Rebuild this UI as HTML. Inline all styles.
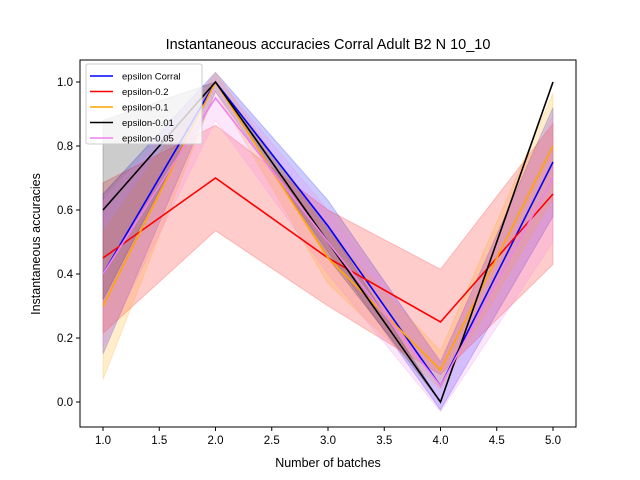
<!DOCTYPE html>
<html><head><meta charset="utf-8"><style>
body{margin:0;background:#fff;}
svg{display:block;font-family:"Liberation Sans","DejaVu Sans",sans-serif;}
</style></head><body>
<svg id="chart" width="640" height="480" xmlns="http://www.w3.org/2000/svg">
<rect width="640" height="480" fill="#fff"/>
<text x="328" y="49" font-size="14.5" text-anchor="middle">Instantaneous accuracies Corral Adult B2 N 10_10</text>
<g id="bands"></g><g id="lines"></g><g id="axes"></g>
<text x="328" y="467" font-size="12.5" text-anchor="middle">Number of batches</text>
<text transform="translate(40,244) rotate(-90)" font-size="12.5" text-anchor="middle">Instantaneous accuracies</text>
<g id="legend"></g>
</svg>
<script>
const batches=[1,2,3,4,5];
const names=["epsilon Corral","epsilon-0.2","epsilon-0.1","epsilon-0.01","epsilon-0.05"];
const colors=["#0000ff","#ff0000","#ffa500","#000000","#ee82ee"];
const meanCorral=[0.4,1.0,0.55,0.05,0.75];
const meanE02=[0.45,0.7,0.45,0.25,0.65];
const meanE01=[0.3,1.0,0.45,0.1,0.8];
const meanE001=[0.6,1.0,0.5,0.0,1.0];
const meanE005=[0.4,0.95,0.5,0.05,0.7];
const stdCorral=[0.25,0.03,0.08,0.075,0.17];
const stdE02=[0.235,0.165,0.15,0.165,0.22];
const stdE01=[0.23,0.03,0.08,0.06,0.165];
const stdE001=[0.28,0.0,0.05,0.0,0.0];
const stdE005=[0.23,0.07,0.1,0.08,0.2];
const xTicks=[1.0,1.5,2.0,2.5,3.0,3.5,4.0,4.5,5.0];
const yTicks=[0.0,0.2,0.4,0.6,0.8,1.0];
const means=[meanCorral,meanE02,meanE01,meanE001,meanE005];
const stds=[stdCorral,stdE02,stdE01,stdE001,stdE005];
const L=80,R=576,T=60,B=427;
function X(v){return 103+(v-1)*112.5;}
function Y(v){return 402-v*320;}
const NS="http://www.w3.org/2000/svg";
function mk(tag,attrs,parent){const e=document.createElementNS(NS,tag);for(const k in attrs)e.setAttribute(k,attrs[k]);parent.appendChild(e);return e;}
const bands=document.getElementById('bands'),lines=document.getElementById('lines'),axes=document.getElementById('axes'),legend=document.getElementById('legend');
means.forEach((m,i)=>{
  const s=stds[i];
  const up=batches.map((b,j)=>X(b)+','+Y(m[j]+s[j]));
  const dn=batches.map((b,j)=>X(b)+','+Y(m[j]-s[j])).reverse();
  const p=mk('polygon',{points:up.concat(dn).join(' '),fill:colors[i],'fill-opacity':i==3?0.2:0.2,stroke:colors[i],'stroke-opacity':0.2},bands);
  
  
});
means.forEach((m,i)=>{
  const pl=mk('polyline',{points:batches.map((b,j)=>X(b)+','+Y(m[j])).join(' '),fill:'none',stroke:colors[i],'stroke-width':1.6},lines);
  
  
});
const fr=mk('rect',{x:L,y:T,width:R-L,height:B-T,fill:'none',stroke:'#000','stroke-width':1},axes);


xTicks.forEach(t=>{
  mk('line',{x1:X(t),x2:X(t),y1:B,y2:B+4,stroke:'#000'},axes);
  const tx=mk('text',{x:X(t),y:B+17,'font-size':11.5,'text-anchor':'middle'},axes);tx.textContent=t.toFixed(1);
  
  
});
yTicks.forEach(t=>{
  mk('line',{x1:L-4,x2:L,y1:Y(t),y2:Y(t),stroke:'#000'},axes);
  const tx=mk('text',{x:L-7,y:Y(t)+4,'font-size':11.5,'text-anchor':'end'},axes);tx.textContent=t.toFixed(1);
  
  
});
const lb=mk('rect',{x:86,y:64,width:116,height:80,rx:2,fill:'#fff','fill-opacity':0.8,stroke:'#ccc'},legend);


names.forEach((n,i)=>{
  const y=76+i*15.5;
  mk('line',{x1:90,x2:113,y1:y,y2:y,stroke:colors[i],'stroke-width':1.6},legend);
  const t=mk('text',{x:122,y:y+3.5,'font-size':9.5},legend);t.textContent=n;
  
  
});
</script>
</body></html>
